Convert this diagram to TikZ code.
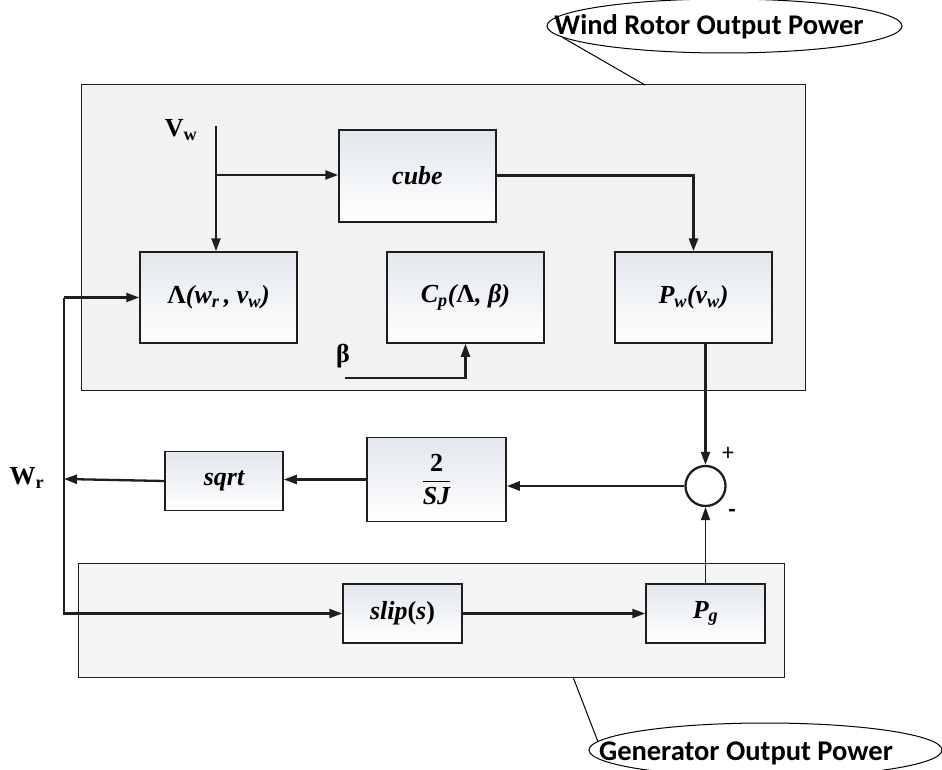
\documentclass[tikz,border=0pt]{standalone}
\usepackage{fontspec}
\setmainfont{Liberation Serif}
\newfontfamily\calloutfont{Carlito}
\usetikzlibrary{positioning,shapes.geometric,arrows.meta}
\definecolor{panelgray}{HTML}{F2F2F2}
\definecolor{boxtop}{HTML}{E2E7ED}
\definecolor{linegray}{HTML}{1E1E1E}

\tikzset{
  blockbox/.style={draw=linegray, line width=1.5pt, top color=boxtop, bottom color=white,
    font=\fontsize{26}{30}\selectfont\bfseries\itshape, inner sep=0pt},
  panel/.style={draw=linegray, line width=1pt, fill=panelgray},
  flow/.style={draw=linegray, line width=2.3pt, -{Triangle[length=13pt,width=9pt]}},
  signal/.style={font=\fontsize{26}{30}\selectfont\bfseries},
  bubble/.style={ellipse, draw, line width=1pt, inner sep=0pt},
  callout/.style={font=\fontsize{28.5}{32}\selectfont\calloutfont\bfseries, anchor=base}
}

\begin{document}
\begin{tikzpicture}[x=1pt, y=-1pt]
\useasboundingbox (0,0) rectangle (942,770);

% Panels
\node[panel, minimum width=724pt, minimum height=305pt] (rotorpanel) at (443,237.5) {};
\node[panel, minimum width=706pt, minimum height=114pt, fill opacity=0.8] (genpanel) at (431,620) {};

% Blocks
\node[blockbox, minimum width=157pt, minimum height=92pt] (cube) at (417.5,176) {cube};
\node[blockbox, minimum width=157pt, minimum height=91pt] (lambda) at (218.5,297.5)
  {{\upshape Λ}(w\textsubscript{r}\,, v\textsubscript{w})};
\node[blockbox, minimum width=157pt, minimum height=91pt] (cp) at (465.5,297.5)
  {C\textsubscript{p}({\upshape Λ}, β)};
\node[blockbox, minimum width=157pt, minimum height=91pt] (pw) at (693.5,297.5)
  {P\textsubscript{w}(v\textsubscript{w})};
\node[blockbox, minimum width=139pt, minimum height=84pt] (frac) at (436.5,479.5)
  {$\displaystyle\frac{\mbox{\upshape 2}}{\mbox{SJ}}$};
\node[blockbox, minimum width=118pt, minimum height=59pt] (sqrt) at (224,481) {sqrt};
\node[blockbox, minimum width=119pt, minimum height=59pt] (slip) at (402.5,613.5)
  {slip{\upshape(}s{\upshape)}};
\node[blockbox, minimum width=119pt, minimum height=59pt] (pg) at (705.5,613.5)
  {P\textsubscript{g}};

% Summing junction
\node[circle, draw=linegray, line width=2.3pt, minimum size=40pt, inner sep=0pt] (sum) at (705.5,486) {};
\node[font=\fontsize{24}{26}\selectfont\calloutfont] (plus) at (728,454) {+};
\node[font=\fontsize{24}{26}\selectfont\calloutfont\bfseries] (minus) at (732,513) {-};

% Signal labels
\node[signal] (vwlabel) at (181,130) {V\textsubscript{w}};
\node[signal] (betalabel) at (343,356) {β};
\node[signal] (wrlabel) at (27,478) {W\textsubscript{r}};

% Free ends
\coordinate (vwtop) at (216,126);
\coordinate (vwsplit) at (216,175);
\coordinate (betastart) at (345,378);
\coordinate (wrend) at (64,479);

% Connectors
\draw[flow] (vwtop) -- (vwtop |- lambda.north);
\draw[flow] (vwsplit) -- (vwsplit -| cube.west);
\draw[flow, line width=3pt] (cube.east) -- (cube.east -| pw.north) -- (pw.north);
\draw[flow] (betastart) -| (cp.south);
\draw[flow] (pw.south -| sum.north) -- (sum.north);
\draw[flow, line width=2.6pt] (sum.west) -- (sum.west -| frac.east);
\draw[flow] (frac.west) -- (frac.west -| sqrt.east);
\draw[flow] (sqrt.west) -- (wrend);
\draw[flow] (wrend |- lambda.west) -- (lambda.west);
\draw[flow] (wrend |- lambda.west) -- (wrend |- slip.west) -- (slip.west);
\draw[flow] (slip.east) -- (pg.west);
\draw[flow, line width=1.6pt] (pg.north) -- (sum.south);

% Callouts
\node[bubble, minimum width=355pt, minimum height=54pt] (windbubble) at (724.5,26) {};
\node[callout] (windtext) at (709,35) {Wind Rotor Output Power};
\coordinate (windtip) at (645,85);
\draw[line width=1pt] (windbubble.184) -- (windtip);

\node[bubble, minimum width=353pt, minimum height=54pt] (genbubble) at (765.5,750) {};
\node[callout] (gentext) at (746,760) {Generator Output Power};
\coordinate (gentip) at (573,677);
\draw[line width=1pt] (genbubble.177) -- (gentip);

\end{tikzpicture}
\end{document}
